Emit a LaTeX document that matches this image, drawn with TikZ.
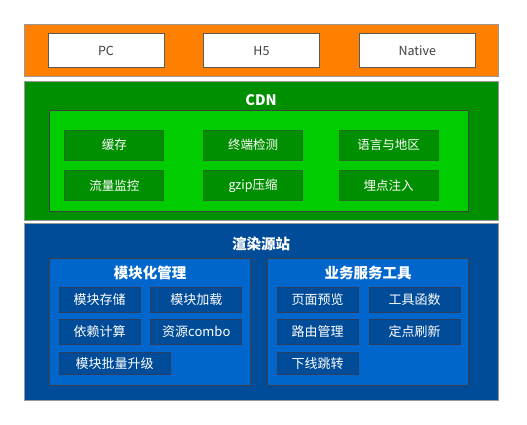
\documentclass[tikz,border=0pt]{standalone}
\usepackage{fontspec}
\setmainfont{Noto Sans CJK SC}
\usetikzlibrary{positioning}

\definecolor{clientorange}{HTML}{FF8000}
\definecolor{cdngreen}{HTML}{008F00}
\definecolor{cdnlight}{HTML}{00CC00}
\definecolor{cdnborder}{HTML}{1F6F1F}
\definecolor{originblue}{HTML}{004C99}
\definecolor{originlight}{HTML}{0066CC}
\definecolor{originborder}{HTML}{2A3F5F}
\definecolor{layerframe}{HTML}{999999}

\tikzset{
    layer/.style={draw=layerframe, line width=1pt},
    panel/.style={draw=black!75, line width=0.8pt},
    client/.style={draw=black!65, fill=white, line width=0.8pt, minimum width=116pt, minimum height=34pt, inner sep=0pt, text=black!75, font=\fontsize{12.5}{14}\selectfont},
    greencell/.style={draw=cdnborder, fill=cdngreen, line width=0.8pt, minimum width=99pt, minimum height=30pt, inner sep=0pt, text=white, font=\fontsize{12.5}{14}\selectfont},
    bluecell/.style={draw=originborder, fill=originblue, line width=0.8pt, minimum height=25pt, inner sep=0pt, text=white, font=\fontsize{13}{14}\selectfont},
    title/.style={text=white, font=\fontsize{14.5}{16}\selectfont\bfseries}
}

\begin{document}
\begin{tikzpicture}[x=1pt, y=-1pt]
    \useasboundingbox[fill=white] (0,0) rectangle (527,425);

    % Client layer
    \draw[layer, fill=clientorange] (24,24.5) rectangle (498,77);
    \node[client] (pc) at (106,50.75) {PC};
    \node[client] (h5) at (261.5,50.75) {H5};
    \node[client] (native) at (417.25,50.75) {Native};

    % CDN layer
    \draw[layer, fill=cdngreen] (24,81.5) rectangle (498,220);
    \node[title] (cdn) at (261,100) {CDN};
    \draw[panel, fill=cdnlight] (49,110.7) rectangle (468,211);
    \node[greencell] (cache) at (114.3,145) {缓存};
    \node[greencell] (detect) at (253,145) {终端检测};
    \node[greencell] (locale) at (388.7,145) {语言与地区};
    \node[greencell] (traffic) at (114.3,185.5) {流量监控};
    \node[greencell] (gzip) at (253,185.5) {gzip压缩};
    \node[greencell] (inject) at (388.7,185.5) {埋点注入};

    % Origin layer
    \draw[layer, fill=originblue] (24,223.7) rectangle (498,400);
    \node[title] (origin) at (261,244) {渲染源站};

    % Module management
    \draw[panel, fill=originlight] (49.3,258.7) rectangle (250.7,385);
    \node[title] (modmgr) at (150,272.5) {模块化管理};
    \node[bluecell, minimum width=81pt] (store) at (99.5,299.8) {模块存储};
    \node[bluecell, minimum width=91pt] (load) at (196.3,299.8) {模块加载};
    \node[bluecell, minimum width=81pt] (deps) at (99.5,331.8) {依赖计算};
    \node[bluecell, minimum width=91pt] (combo) at (196.3,331.8) {资源combo};
    \node[bluecell, minimum width=111pt, minimum height=22.5pt] (upgrade) at (114.5,363.2) {模块批量升级};

    % Business tools
    \draw[panel, fill=originlight] (267.3,258.7) rectangle (468.3,385);
    \node[title] (biztools) at (368,272.5) {业务服务工具};
    \node[bluecell, minimum width=81pt] (preview) at (317.7,299.8) {页面预览};
    \node[bluecell, minimum width=91pt] (funcs) at (414.5,299.8) {工具函数};
    \node[bluecell, minimum width=81pt] (routes) at (317.7,331.8) {路由管理};
    \node[bluecell, minimum width=91pt] (refresh) at (414.5,331.8) {定点刷新};
    \node[bluecell, minimum width=81pt, minimum height=22.5pt] (offline) at (317.7,363.2) {下线跳转};
\end{tikzpicture}
\end{document}
